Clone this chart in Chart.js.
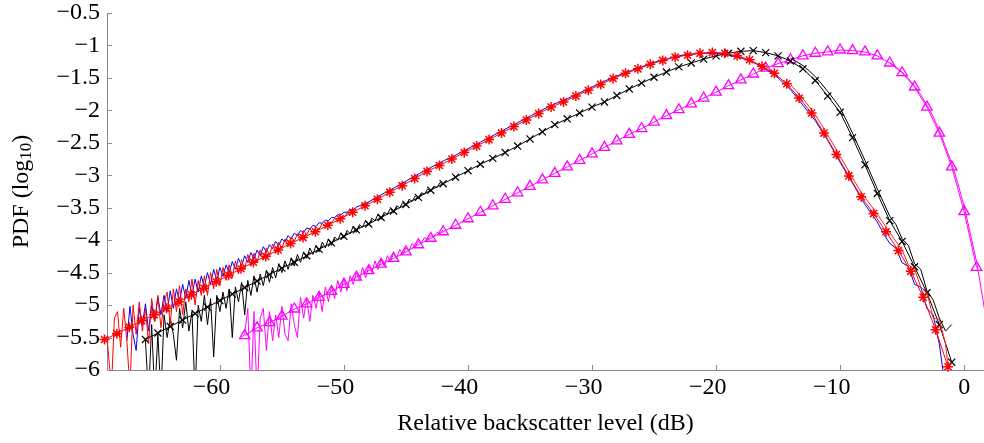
<!DOCTYPE html>
<html>
<head>
<meta charset="utf-8">
<script src="https://cdn.jsdelivr.net/npm/chart.js@4.4.1/dist/chart.umd.min.js"></script>
<style>
    html, body { margin: 0; padding: 0; background: #fff; }
</style>
</head>
<body>
<canvas id="pdfChart" width="984" height="443"></canvas>
<script>
// Axis ticks
const xTickValues = [-60, -50, -40, -30, -20, -10, 0];
const yTickValues = [-6, -5.5, -5, -4.5, -4, -3.5, -3, -2.5, -2, -1.5, -1, -0.5];

// Blue curve (no markers): noisy low end every 0.25 dB, then 1 dB, then tail every 0.5 dB
const blueNoiseStart = -67.5;
const blueNoise = [
    -5.55, -5.02, -5.45, -5.70, -5.05, -5.30, -4.98, -5.40, -5.00, -5.25,
    -4.88, -5.15, -4.85, -5.10, -4.78, -5.05, -4.75, -4.95, -4.68, -4.90,
    -4.62, -4.85, -4.60, -4.80, -4.55, -4.72, -4.50, -4.68, -4.45, -4.62,
    -4.42, -4.56, -4.38, -4.50, -4.33, -4.45, -4.28, -4.40, -4.24, -4.34,
    -4.19, -4.29, -4.15, -4.24, -4.10, -4.18, -4.07, -4.13, -4.02, -4.08,
    -3.98, -4.03, -3.93, -3.98, -3.89, -3.93, -3.85, -3.88, -3.81, -3.83,
    -3.77, -3.79, -3.73, -3.74, -3.69, -3.70, -3.65, -3.65, -3.61, -3.61,
    -3.57, -3.57, -3.53, -3.53, -3.49
];
const blueMidStart = -48;
const blueMid = [
    -3.41, -3.30, -3.20, -3.09, -2.98, -2.88, -2.78, -2.69, -2.59, -2.49,
    -2.39, -2.29, -2.19, -2.09, -1.99, -1.90, -1.82, -1.73, -1.64, -1.55,
    -1.47, -1.40, -1.33, -1.26, -1.21, -1.16, -1.13, -1.12, -1.12, -1.15,
    -1.19, -1.26, -1.36, -1.50, -1.68, -1.92, -2.16, -2.46, -2.80, -3.12,
    -3.45, -3.72
];
const blueTailStart = -6.5;
const blueTail = [-3.90, -4.05, -4.12, -4.35, -4.40, -4.68, -4.72, -5.05, -5.15, -5.60, -6.30];

// Red curve: measured (noisy) line and smooth line with asterisk markers
const redNoiseStart = -69.25;
const redNoise = [
    -5.25, -5.70, -6.30, -5.20, -5.10, -5.65, -5.05, -5.55, -6.30, -5.00,
    -5.45, -4.95, -5.40, -5.05, -5.60, -4.90, -5.25, -4.85, -5.35, -4.95,
    -4.80, -5.30, -4.75, -5.10, -4.70, -5.15, -4.75, -4.95, -4.60, -5.00,
    -4.62, -4.85, -4.55, -4.85, -4.50, -4.75, -4.45, -4.70, -4.42, -4.62,
    -4.38, -4.58, -4.32, -4.52, -4.30, -4.45, -4.22, -4.40, -4.20, -4.35,
    -4.15, -4.30, -4.12, -4.24, -4.06, -4.18, -4.03, -4.13, -3.98, -4.08,
    -3.95, -4.02, -3.90, -3.98, -3.85, -3.92, -3.82, -3.88, -3.80, -3.83,
    -3.74, -3.79, -3.72, -3.74, -3.66, -3.70, -3.64, -3.65, -3.58, -3.61,
    -3.55
];
const redTailStart = -14;
const redTail = [
    -1.60, -1.71, -1.82, -1.94, -2.07, -2.22, -2.38, -2.54, -2.71, -2.87,
    -3.04, -3.20, -3.34, -3.47, -3.60, -3.74, -3.88, -4.02, -4.15, -4.38,
    -4.45, -4.72, -4.80, -5.20, -5.22, -5.60, -6.40
];
const redModelStart = -69.3;
const redModel = [
    -5.53, -5.44, -5.34, -5.24, -5.15, -5.05, -4.95, -4.84, -4.74, -4.64,
    -4.54, -4.44, -4.34, -4.25, -4.15, -4.05, -3.96, -3.87, -3.77, -3.67,
    -3.57, -3.47, -3.37, -3.26, -3.16, -3.05, -2.94, -2.85, -2.75, -2.65,
    -2.55, -2.45, -2.35, -2.25, -2.15, -2.05, -1.95, -1.87, -1.78, -1.69,
    -1.60, -1.51, -1.43, -1.36, -1.29, -1.23, -1.18, -1.15, -1.12, -1.11,
    -1.12, -1.16, -1.22, -1.32, -1.43, -1.59, -1.81, -2.04, -2.35, -2.68,
    -3.01, -3.33, -3.59, -3.87, -4.16, -4.48, -4.88, -5.38, -5.95
];

// Black curve: measured (noisy) line and smooth line with x markers
const blackNoiseStart = -66;
const blackNoise = [
    -5.55, -6.40, -5.30, -6.40, -5.45, -6.40, -5.15, -5.50, -5.20, -5.45,
    -5.85, -5.05, -5.35, -4.95, -5.40, -5.10, -6.40, -5.00, -5.25, -4.85,
    -5.30, -4.90, -5.80, -4.85, -5.10, -4.80, -5.05, -4.75, -5.50, -4.72,
    -4.95, -4.65, -5.15, -4.62, -4.85, -4.55, -4.80, -4.52, -4.70, -4.46,
    -4.65, -4.42, -4.58, -4.36, -4.50, -4.32, -4.45, -4.27, -4.40, -4.22,
    -4.34, -4.18, -4.28, -4.12, -4.22, -4.08, -4.18, -4.03, -4.12, -3.98,
    -4.08, -3.95, -4.00, -3.89, -3.97, -3.85, -3.90, -3.79, -3.88, -3.76,
    -3.80, -3.70, -3.77, -3.66, -3.70, -3.60, -3.68, -3.57, -3.60, -3.51,
    -3.58, -3.47, -3.50, -3.42, -3.47, -3.37, -3.40, -3.32, -3.36, -3.27,
    -3.29, -3.21, -3.25, -3.17, -3.19, -3.11, -3.14
];
const blackTailStart = -14;
const blackTail = [
    -1.20, -1.25, -1.31, -1.39, -1.48, -1.59, -1.71, -1.83, -1.96, -2.15,
    -2.35, -2.56, -2.77, -2.99, -3.21, -3.42, -3.63, -3.76, -3.98, -4.08,
    -4.36, -4.45, -4.78, -4.92, -5.20, -5.40, -5.30
];
const blackModelStart = -66;
const blackModel = [
    -5.53, -5.43, -5.33, -5.23, -5.13, -5.03, -4.93, -4.83, -4.73, -4.63,
    -4.53, -4.43, -4.34, -4.24, -4.14, -4.04, -3.94, -3.84, -3.75, -3.65,
    -3.55, -3.45, -3.34, -3.23, -3.13, -3.03, -2.93, -2.83, -2.74, -2.65,
    -2.55, -2.44, -2.33, -2.22, -2.13, -2.04, -1.95, -1.87, -1.77, -1.67,
    -1.58, -1.49, -1.41, -1.33, -1.27, -1.21, -1.16, -1.12, -1.09, -1.08,
    -1.11, -1.16, -1.24, -1.36, -1.54, -1.78, -2.03, -2.42, -2.84, -3.28,
    -3.70, -4.02, -4.41, -4.81, -5.30, -5.88
];

// Magenta curve: measured (noisy) line and smooth line with triangle markers
const magentaNoiseStart = -58.25;
const magentaNoise = [
    -5.50, -5.45, -5.05, -6.40, -5.10, -6.40, -5.20, -5.05, -5.70, -5.10,
    -5.55, -5.15, -5.50, -5.02, -5.45, -5.55, -4.98, -5.30, -5.50, -4.88,
    -5.20, -4.90, -5.25, -4.85, -5.05, -4.80, -5.10, -4.72, -4.95, -4.70,
    -4.90, -4.62, -4.80, -4.58, -4.78, -4.55, -4.68, -4.50, -4.62, -4.42,
    -4.58, -4.40, -4.50, -4.32, -4.45, -4.30, -4.40, -4.24, -4.33, -4.20,
    -4.28, -4.14, -4.22, -4.12, -4.16, -4.05, -4.10, -4.02, -4.04, -3.96,
    -3.99, -3.93, -3.94, -3.88, -3.90, -3.84
];
const magentaTailStart = -6;
const magentaTail = [
    -1.26, -1.33, -1.41, -1.51, -1.62, -1.76, -1.92, -2.10, -2.31, -2.56,
    -2.82, -3.13, -3.48, -3.90, -4.33, -4.90, -5.50
];
const magentaModelStart = -58;
const magentaModel = [
    -5.47, -5.35, -5.27, -5.17, -5.06, -4.98, -4.88, -4.79, -4.68, -4.57,
    -4.47, -4.37, -4.28, -4.18, -4.07, -3.97, -3.87, -3.77, -3.67, -3.57,
    -3.47, -3.37, -3.27, -3.17, -3.07, -2.97, -2.87, -2.77, -2.67, -2.57,
    -2.47, -2.37, -2.28, -2.18, -2.08, -1.99, -1.90, -1.81, -1.72, -1.62,
    -1.53, -1.44, -1.35, -1.28, -1.22, -1.16, -1.12, -1.10, -1.07, -1.08,
    -1.10, -1.16, -1.27, -1.42, -1.64, -1.95, -2.35, -2.87, -3.56, -4.42
];

const xMin = -69.1, xMax = 1.6;
const axisGrey = '#8a8a8a';
const serif = '"Liberation Serif", "Times New Roman", serif';

// Turn a start value, a step and a list of values into {x, y} points
function grid(start, step, values) {
    return values.map((v, i) => ({ x: +(start + i * step).toFixed(2), y: v }));
}

function minusLabel(v) {
    return v < 0 ? '\u2212' + Math.abs(v) : String(v);
}

function plainLine(data, colour) {
    return {
        data: data,
        borderColor: colour,
        borderWidth: 1,
        pointRadius: 0,
        tension: 0
    };
}

function markedLine(data, colour, style, radius, markWidth) {
    return {
        data: data,
        borderColor: colour,
        borderWidth: 1,
        pointStyle: style,
        pointRadius: radius,
        pointBorderColor: colour,
        pointBackgroundColor: 'rgba(0,0,0,0)',
        pointBorderWidth: markWidth,
        tension: 0,
        clip: false
    };
}

// Small tick marks pointing into the plot, like the original figure
const innerTicks = {
    id: 'innerTicks',
    afterDatasetsDraw(chart) {
        const { ctx, chartArea, scales } = chart;
        ctx.save();
        ctx.strokeStyle = axisGrey;
        ctx.lineWidth = 1;
        ctx.beginPath();
        for (const v of yTickValues) {
            const py = Math.round(scales.y.getPixelForValue(v)) + 0.5;
            ctx.moveTo(chartArea.left, py);
            ctx.lineTo(chartArea.left + 5, py);
        }
        for (const v of xTickValues) {
            const px = Math.round(scales.x.getPixelForValue(v)) + 0.5;
            ctx.moveTo(px, chartArea.bottom);
            ctx.lineTo(px, chartArea.bottom - 5);
        }
        ctx.stroke();
        ctx.restore();
    }
};

// Y title with a real subscript: PDF (log10)
const yTitle = {
    id: 'yTitle',
    afterDraw(chart) {
        const { ctx, chartArea } = chart;
        const big = '24px ' + serif, small = '17px ' + serif;
        ctx.save();
        ctx.translate(22, (chartArea.top + chartArea.bottom) / 2);
        ctx.rotate(-Math.PI / 2);
        ctx.fillStyle = '#000';
        ctx.textAlign = 'left';
        ctx.textBaseline = 'middle';
        ctx.font = big;
        const w1 = ctx.measureText('PDF (log').width;
        const w3 = ctx.measureText(')').width;
        ctx.font = small;
        const w2 = ctx.measureText('10').width;
        let x = -(w1 + w2 + w3) / 2;
        ctx.font = big;
        ctx.fillText('PDF (log', x, 0);
        x += w1;
        ctx.font = small;
        ctx.fillText('10', x, 5);
        x += w2;
        ctx.font = big;
        ctx.fillText(')', x, 0);
        ctx.restore();
    }
};

const chartConfig = {
    type: 'line',
    data: {
        datasets: [
            markedLine(grid(redModelStart, 1, redModel), '#ff0000', 'star', 5, 1.5),
            plainLine(grid(redNoiseStart, 0.25, redNoise), '#ff0000'),
            plainLine(grid(redTailStart, 0.5, redTail), '#ff2020'),
            plainLine(grid(blueNoiseStart, 0.25, blueNoise)
                .concat(grid(blueMidStart, 1, blueMid))
                .concat(grid(blueTailStart, 0.5, blueTail)), '#0000ff'),
            markedLine(grid(blackModelStart, 1, blackModel), '#000000', 'crossRot', 5, 1.2),
            plainLine(grid(blackNoiseStart, 0.25, blackNoise), '#000000'),
            plainLine(grid(blackTailStart, 0.5, blackTail), '#000000'),
            markedLine(grid(magentaModelStart, 1, magentaModel), '#ff00ff', 'triangle', 6, 1.3),
            plainLine(grid(magentaNoiseStart, 0.25, magentaNoise), '#ff00ff'),
            plainLine(grid(magentaTailStart, 0.5, magentaTail), '#ff00ff')
        ]
    },
    options: {
        responsive: false,
        animation: false,
        layout: { autoPadding: false, padding: { top: 13, right: 0, left: 0, bottom: 0 } },
        scales: {
            x: {
                type: 'linear',
                min: xMin,
                max: xMax,
                afterBuildTicks: (scale) => { scale.ticks = xTickValues.map(v => ({ value: v })); },
                afterFit: (scale) => {
                    scale.height = 73;
                    scale.paddingLeft = 0;
                    scale.paddingRight = 0;
                },
                grid: { display: false, drawTicks: false },
                border: { display: true, color: axisGrey, width: 1 },
                ticks: {
                    padding: 3,
                    color: '#000',
                    font: { family: serif, size: 24 },
                    autoSkip: false,
                    maxRotation: 0,
                    callback: (v) => v < 0 ? minusLabel(v) + '\u2002\u2009' : minusLabel(v)
                },
                title: {
                    display: true,
                    text: 'Relative backscatter level (dB)',
                    color: '#000',
                    font: { family: serif, size: 24 },
                    padding: { top: 6, bottom: 5 }
                }
            },
            y: {
                type: 'linear',
                min: -6,
                max: -0.5,
                afterBuildTicks: (scale) => { scale.ticks = yTickValues.map(v => ({ value: v })); },
                afterFit: (scale) => {
                    scale.width = 107;
                    scale.paddingTop = 0;
                    scale.paddingBottom = 0;
                },
                grid: { display: false, drawTicks: false },
                border: { display: true, color: axisGrey, width: 1 },
                ticks: {
                    padding: 7,
                    color: '#000',
                    font: { family: serif, size: 24 },
                    autoSkip: false,
                    callback: (v) => minusLabel(v)
                }
            }
        },
        plugins: {
            legend: { display: false },
            tooltip: { enabled: false }
        }
    },
    plugins: [innerTicks, yTitle]
};

const pdfChart = new Chart('pdfChart', chartConfig);
</script>
</body>
</html>
